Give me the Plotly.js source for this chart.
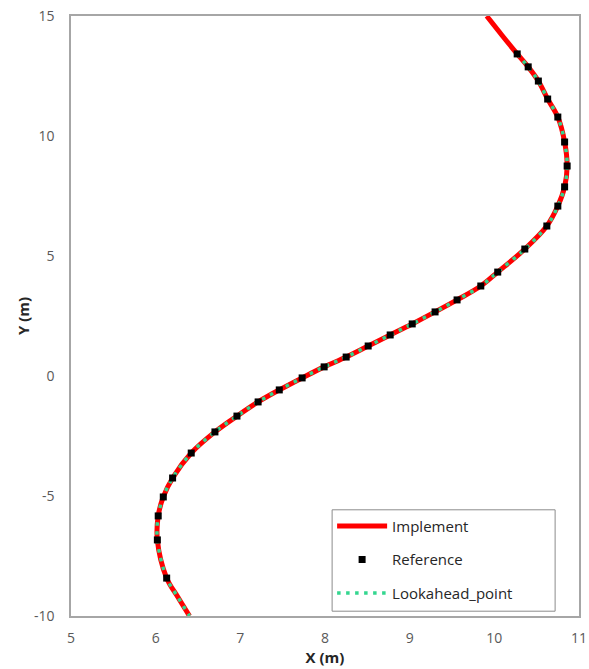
<!DOCTYPE html>
<html>
<head>
<meta charset="utf-8">
<script src="https://cdn.plot.ly/plotly-3.0.1.min.js"></script>
<style>html,body{margin:0;padding:0;background:#fff;}#chart{width:589px;height:669px;}</style>
</head>
<body>
<div id="chart"></div>
<script>
const refX = [10.27,10.40,10.52,10.63,10.75,10.83,10.86,10.83,10.75,10.62,10.36,10.04,9.84,9.56,9.30,9.03,8.77,8.51,8.25,7.99,7.73,7.46,7.21,6.96,6.70,6.42,6.20,6.09,6.03,6.02,6.13];
const refY = [13.42,12.88,12.29,11.54,10.79,9.75,8.75,7.88,7.08,6.25,5.29,4.33,3.75,3.17,2.67,2.17,1.71,1.25,0.79,0.38,-0.08,-0.58,-1.08,-1.67,-2.33,-3.21,-4.25,-5.04,-5.83,-6.83,-8.42];
const implStartX = [9.91,10.09];
const implStartY = [15.0,14.2];
const endX = [6.26,6.40];
const endY = [-9.2,-10.0];
const xTicks = [5,6,7,8,9,10,11];
const yTicks = [-10,-5,0,5,10,15];
const yTickText = ['-10','-5','0','5','10','15'];

const implX = implStartX.concat(refX, endX);
const implY = implStartY.concat(refY, endY);
const lookX = refX.concat(endX);
const lookY = refY.concat(endY);

const font = "'Open Sans', 'Noto Sans', sans-serif";
const traces = [
  {x: implX, y: implY, mode: 'lines', name: 'Implement', legendgroup: 'a', legendrank: 1,
   line: {color: '#ff0000', width: 5, shape: 'spline'}},
  {x: lookX, y: lookY, mode: 'lines', name: 'Lookahead_point', legendgroup: 'c', legendrank: 3,
   line: {color: '#33d68f', width: 3.5, dash: '3.5px,5.5px', shape: 'spline'}},
  {x: refX, y: refY, mode: 'markers', name: 'Reference', legendgroup: 'b', legendrank: 2,
   marker: {symbol: 'square', size: 7, color: '#000000'}}
];
const layout = {
  width: 589, height: 669,
  margin: {l: 71, r: 10, t: 16, b: 53},
  paper_bgcolor: '#ffffff', plot_bgcolor: '#ffffff',
  font: {family: font, color: '#595959', size: 14},
  showlegend: true,
  legend: {x: 0.514, y: 0.177, xanchor: 'left', yanchor: 'top',
    borderwidth: 0, bgcolor: 'rgba(0,0,0,0)',
    font: {family: font, size: 15, color: '#262626'},
    traceorder: 'grouped', tracegroupgap: 11, itemwidth: 50},
  shapes: [{type: 'rect', xref: 'paper', yref: 'paper', x0: 0.514, x1: 0.953, y0: 0.008, y1: 0.177,
    line: {color: '#8c8c8c', width: 1}, fillcolor: '#ffffff', layer: 'above'}],
  xaxis: {range: [5, 11], tickvals: xTicks, showgrid: false, zeroline: false,
    showline: true, mirror: true, linecolor: '#a6a6a6', linewidth: 1.5,
    ticks: 'outside', ticklen: 8, tickcolor: 'rgba(0,0,0,0)',
    title: {text: '<b>X (m)</b>', standoff: 0, font: {family: font, size: 15, color: '#262626'}}},
  yaxis: {range: [-10, 15], tickvals: yTicks, ticktext: yTickText, showgrid: false, zeroline: false,
    showline: true, mirror: true, linecolor: '#a6a6a6', linewidth: 1.5,
    ticks: 'outside', ticklen: 12, tickcolor: 'rgba(0,0,0,0)',
    title: {text: '<b>Y (m)</b>', standoff: 1, font: {family: font, size: 15, color: '#262626'}}}
};
Plotly.newPlot('chart', traces, layout, {displayModeBar: false});
</script>
</body>
</html>
